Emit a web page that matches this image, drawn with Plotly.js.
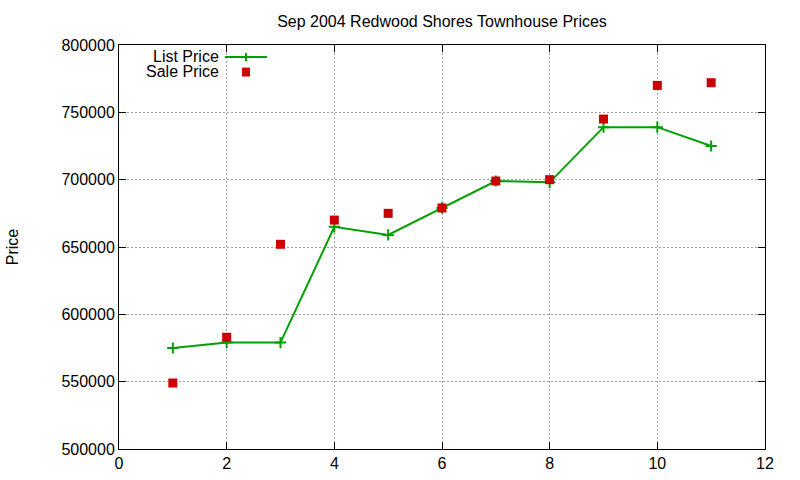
<!DOCTYPE html>
<html>
<head>
<meta charset="utf-8">
<script src="https://cdn.plot.ly/plotly-3.0.1.min.js"></script>
<style>html,body{margin:0;padding:0;background:#fff;}#chart{width:800px;height:480px;}</style>
</head>
<body>
<div id="chart"></div>
<script>
const months = [1, 2, 3, 4, 5, 6, 7, 8, 9, 10, 11];
const listPrice = [575000, 579000, 579000, 665000, 659000, 679000, 699000, 698000, 739000, 739000, 725000];
const salePrice = [549000, 583000, 652000, 670000, 675000, 679000, 699000, 700000, 745000, 770000, 772000];
const seriesNames = ["List Price", "Sale Price"];
const titleText = "Sep 2004 Redwood Shores Townhouse Prices";
const yTitle = "Price";

const green = "#00a000";
const red = "#cc0000";
const font = "'Liberation Sans', Arial, sans-serif";

const traces = [
  {x: months, y: listPrice, name: seriesNames[0], type: "scatter", mode: "lines+markers",
   line: {color: green, width: 2},
   marker: {symbol: "cross-thin-open", size: 8, color: green, line: {color: green, width: 2}}},
  {x: months, y: salePrice, name: seriesNames[1], type: "scatter", mode: "markers",
   marker: {symbol: "square", size: 9, color: red}}
];

// legend drawn in gnuplot style (text right-aligned, sample on the right)
const layout = {
  width: 800, height: 480,
  margin: {l: 119, r: 35, t: 45, b: 31},
  paper_bgcolor: "#fff", plot_bgcolor: "#fff",
  showlegend: false,
  font: {family: font, size: 16, color: "#000"},
  title: {text: titleText, font: {family: font, size: 16, color: "#000"}, xref: "paper", x: 0.5, xanchor: "center", y: 0.955, yanchor: "middle"},
  xaxis: {range: [0, 12], dtick: 2, tick0: 0, showline: true, linecolor: "#000", linewidth: 1, mirror: "ticks",
    ticks: "inside", ticklen: 7, tickcolor: "#000", showgrid: true, gridcolor: "#a0a0a0", griddash: "2px,2px", gridwidth: 1,
    zeroline: false, tickfont: {size: 16}},
  yaxis: {range: [500000, 800000], dtick: 50000, showline: true, linecolor: "#000", linewidth: 1, mirror: "ticks",
    ticks: "inside", ticklen: 7, tickcolor: "#000", showgrid: true, gridcolor: "#a0a0a0", griddash: "2px,2px", gridwidth: 1,
    zeroline: false, tickformat: "d", tickfont: {size: 16}, automargin: false,
    title: {text: yTitle, font: {size: 16}, standoff: 38}},
  annotations: [
    {xref: "paper", yref: "paper", x: 0.156, y: 0.972, xanchor: "right", yanchor: "middle", text: seriesNames[0], showarrow: false, font: {size: 16}, height: 14, borderpad: 0},
    {xref: "paper", yref: "paper", x: 0.156, y: 0.935, xanchor: "right", yanchor: "middle", text: seriesNames[1], showarrow: false, font: {size: 16}, height: 14, borderpad: 0}
  ],
  shapes: [
    {type: "line", xref: "paper", yref: "paper", x0: 0.164, x1: 0.229, y0: 0.97, y1: 0.97, line: {color: green, width: 2}},
    {type: "line", xref: "paper", yref: "paper", x0: 0.1904, x1: 0.2028, y0: 0.97, y1: 0.97, line: {color: green, width: 2}},
    {type: "line", xref: "paper", yref: "paper", x0: 0.1966, x1: 0.1966, y0: 0.96, y1: 0.98, line: {color: green, width: 2}},
    {type: "rect", xref: "paper", yref: "paper", x0: 0.1904, x1: 0.2028, y0: 0.922, y1: 0.944, fillcolor: red, line: {width: 0}}
  ]
};
Plotly.newPlot("chart", traces, layout, {staticPlot: true, displayModeBar: false});
</script>
</body>
</html>
